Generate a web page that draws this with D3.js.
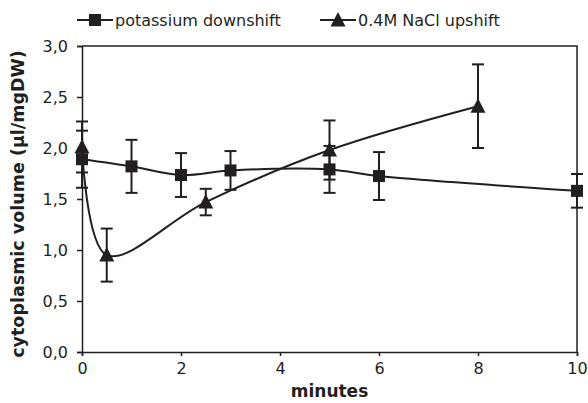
<!DOCTYPE html>
<html>
<head>
<meta charset="utf-8">
<script src="https://cdn.jsdelivr.net/npm/d3@7"></script>
<style>
  body { margin: 0; background: #fff; }
  text { font-family: "DejaVu Sans", Verdana, sans-serif; fill: #231f20; }
</style>
</head>
<body>
<div id="chart"></div>
<script>
// potassium downshift (squares)
const kTime = [0, 1, 2, 3, 5, 6, 10];
const kVol  = [1.89, 1.82, 1.735, 1.78, 1.79, 1.725, 1.58];
const kErr  = [0.28, 0.26, 0.215, 0.19, 0.23, 0.235, 0.165];

// 0.4M NaCl upshift (triangles)
const naTime = [0, 0.5, 2.5, 5, 8];
const naVol  = [2.01, 0.95, 1.47, 1.98, 2.41];
const naErr  = [0.25, 0.26, 0.13, 0.29, 0.41];

const xTicks = [0, 2, 4, 6, 8, 10];
const yTicks = [0, 0.5, 1, 1.5, 2, 2.5, 3];
const seriesNames = ["potassium downshift", "0.4M NaCl upshift"];

const width = 588, height = 403;
const margin = {top: 46, right: 11, bottom: 51, left: 82};
const ink = "#231f20";

const svg = d3.select("#chart")
  .append("svg")
  .attr("width", width)
  .attr("height", height);

const x = d3.scaleLinear().domain([0, 10]).range([margin.left, width - margin.right]);
const y = d3.scaleLinear().domain([0, 3]).range([height - margin.bottom, margin.top]);

// frame (top + right)
svg.append("path")
  .attr("d", `M${x(0)},${y(3)}H${x(10)}V${y(0)}`)
  .attr("fill", "none")
  .attr("stroke", ink)
  .attr("stroke-width", 1.5);

const comma = d => d3.format(".1f")(d).replace(".", ",");

const yAxis = svg.append("g")
  .attr("transform", `translate(${margin.left},0)`)
  .call(d3.axisLeft(y).tickValues(yTicks).tickFormat(comma).tickSize(5).tickPadding(9));

const xAxis = svg.append("g")
  .attr("transform", `translate(0,${height - margin.bottom})`)
  .call(d3.axisBottom(x).tickValues(xTicks).tickSize(4).tickPadding(7));

[yAxis, xAxis].forEach(g => {
  g.select(".domain").attr("stroke", ink).attr("stroke-width", 1.5);
  g.selectAll(".tick line").attr("stroke", ink).attr("stroke-width", 1.5);
  g.selectAll(".tick text")
    .attr("fill", ink)
    .style("font-family", '"DejaVu Sans", Verdana, sans-serif')
    .style("font-size", "16px");
});

// axis titles
svg.append("text")
  .attr("transform", `translate(18,${(y(0) + y(3)) / 2 + 5}) rotate(-90)`)
  .attr("text-anchor", "middle")
  .attr("dominant-baseline", "central")
  .style("font-size", "17.5px")
  .style("font-weight", "bold")
  .text("cytoplasmic volume (µl/mgDW)");

svg.append("text")
  .attr("x", (x(0) + x(10)) / 2)
  .attr("y", 397)
  .attr("text-anchor", "middle")
  .style("font-size", "17px")
  .style("font-weight", "bold")
  .text("minutes");

const line = d3.line()
  .x(d => x(d[0]))
  .y(d => y(d[1]))
  .curve(d3.curveCatmullRom.alpha(0.5));

const kData = kTime.map((t, i) => [t, kVol[i], kErr[i]]);
const naData = naTime.map((t, i) => [t, naVol[i], naErr[i]]);

const triPath = "M0,-8L7.5,6.5L-7.5,6.5Z";

function drawSeries(data, marker) {
  const g = svg.append("g");
  g.append("path")
    .datum(data)
    .attr("d", line)
    .attr("fill", "none")
    .attr("stroke", ink)
    .attr("stroke-width", 2);

  const eb = g.selectAll(".err")
    .data(data)
    .enter()
    .append("g")
    .attr("stroke", ink)
    .attr("stroke-width", 2);
  eb.append("line")
    .attr("x1", d => x(d[0])).attr("x2", d => x(d[0]))
    .attr("y1", d => y(d[1] + d[2])).attr("y2", d => y(d[1] - d[2]));
  eb.append("line")
    .attr("x1", d => x(d[0]) - 6).attr("x2", d => x(d[0]) + 6)
    .attr("y1", d => y(d[1] + d[2])).attr("y2", d => y(d[1] + d[2]));
  eb.append("line")
    .attr("x1", d => x(d[0]) - 6).attr("x2", d => x(d[0]) + 6)
    .attr("y1", d => y(d[1] - d[2])).attr("y2", d => y(d[1] - d[2]));

  if (marker === "square") {
    g.selectAll(".mk")
      .data(data)
      .enter()
      .append("rect")
      .attr("x", d => x(d[0]) - 6)
      .attr("y", d => y(d[1]) - 6)
      .attr("width", 12)
      .attr("height", 12)
      .attr("fill", ink);
  } else {
    g.selectAll(".mk")
      .data(data)
      .enter()
      .append("path")
      .attr("transform", d => `translate(${x(d[0])},${y(d[1])})`)
      .attr("d", triPath)
      .attr("fill", ink);
  }
}

drawSeries(kData, "square");
drawSeries(naData, "triangle");

// legend
const legendItems = [
  {name: seriesNames[0], x0: 77, marker: "square"},
  {name: seriesNames[1], x0: 320, marker: "triangle"}
];
const ly = 20;
legendItems.forEach(it => {
  const g = svg.append("g");
  g.append("line")
    .attr("x1", it.x0).attr("x2", it.x0 + 36)
    .attr("y1", ly).attr("y2", ly)
    .attr("stroke", ink).attr("stroke-width", 2);
  if (it.marker === "square") {
    g.append("rect")
      .attr("x", it.x0 + 18 - 6).attr("y", ly - 6)
      .attr("width", 12).attr("height", 12)
      .attr("fill", ink);
  } else {
    g.append("path")
      .attr("transform", `translate(${it.x0 + 18},${ly})`)
      .attr("d", triPath)
      .attr("fill", ink);
  }
  g.append("text")
    .attr("x", it.x0 + 38)
    .attr("y", ly)
    .attr("dominant-baseline", "central")
    .style("font-size", "16px")
    .text(it.name);
});
</script>
</body>
</html>
